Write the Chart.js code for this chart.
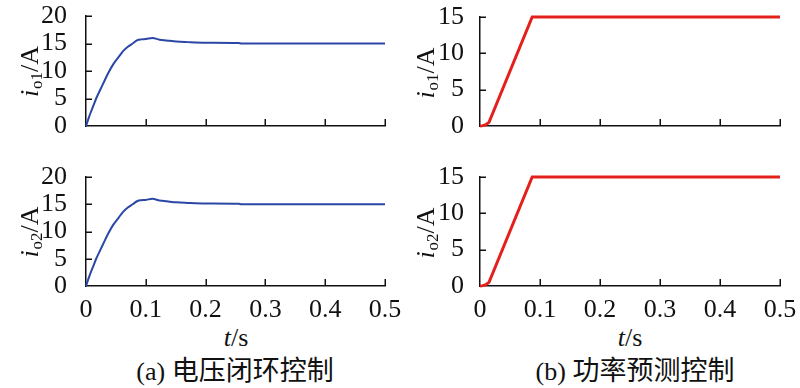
<!DOCTYPE html>
<html>
<head>
<meta charset="utf-8">
<script src="https://cdn.jsdelivr.net/npm/chart.js@4/dist/chart.umd.min.js"></script>
<style>
  html,body{margin:0;padding:0;background:#fff;}
  #wrap{position:relative;width:800px;height:388px;overflow:hidden;background:#fff;}
  canvas{position:absolute;}
  .lbl{position:absolute;font-family:"Liberation Serif","Times New Roman",serif;color:#111;white-space:nowrap;transform:translate(-50%,-50%);line-height:1;}
  .cn{font-family:"Noto Sans CJK SC","Noto Sans",sans-serif;}
</style>
</head>
<body>
<div id="wrap">
  <canvas id="c1" width="400" height="150" style="left:0;top:0;width:400px;height:150px"></canvas>
  <canvas id="c3" width="420" height="172" style="left:0;top:150px;width:420px;height:172px"></canvas>
  <canvas id="c2" width="400" height="150" style="left:400px;top:0;width:400px;height:150px"></canvas>
  <canvas id="c4" width="400" height="172" style="left:400px;top:150px;width:400px;height:172px"></canvas>
  <div class="lbl" style="left:236px;top:338px;font-size:26px"><i>t</i>/s</div>
  <div class="lbl" style="left:630px;top:338px;font-size:26px"><i>t</i>/s</div>
  <div class="lbl" style="left:235px;top:370px;font-size:26px">(a) <span class="cn" style="font-size:27px">电压闭环控制</span></div>
  <div class="lbl" style="left:635px;top:370px;font-size:26px">(b) <span class="cn" style="font-size:27px">功率预测控制</span></div>
</div>
<script>
// ---- data ----
const timeTicks = [0, 0.1, 0.2, 0.3, 0.4, 0.5];
const tVoltage = [0, 0.004, 0.008, 0.012, 0.017, 0.023, 0.03, 0.037, 0.046, 0.055, 0.062, 0.07, 0.078, 0.086, 0.092, 0.1, 0.111, 0.123, 0.135, 0.151, 0.17, 0.2, 0.255, 0.26, 0.5];
const io1Voltage = [0, 1.3, 2.5, 3.6, 5.0, 6.4, 8.0, 9.6, 11.3, 12.6, 13.6, 14.4, 15.0, 15.6, 15.75, 15.8, 16.0, 15.7, 15.55, 15.35, 15.25, 15.15, 15.1, 14.98, 14.98];
const io2Voltage = [0, 1.3, 2.5, 3.6, 5.0, 6.4, 8.0, 9.6, 11.3, 12.6, 13.6, 14.4, 15.0, 15.6, 15.75, 15.8, 16.0, 15.7, 15.55, 15.35, 15.25, 15.15, 15.1, 14.98, 14.98];
const tPower = [0, 0.005, 0.01, 0.015, 0.087, 0.5];
const io1Power = [0, 0.05, 0.2, 0.5, 15, 15];
const io2Power = [0, 0.05, 0.2, 0.5, 15, 15];
const yTicksLeft = [0, 5, 10, 15, 20];
const yTicksRight = [0, 5, 10, 15];

const SERIF = '"Liberation Serif","Times New Roman",serif';

const inwardTicks = {
  id: 'inwardTicks',
  afterDatasetsDraw(chart) {
    const ctx = chart.ctx, a = chart.chartArea;
    const xs = chart.scales.x, ys = chart.scales.y;
    ctx.save();
    ctx.strokeStyle = '#111';
    ctx.lineWidth = 1.5;
    ctx.beginPath();
    xs.ticks.forEach(t => {
      if (t.value === xs.min) return;
      const px = Math.round(xs.getPixelForValue(t.value)) + 0.25;
      ctx.moveTo(px, a.bottom);
      ctx.lineTo(px, a.bottom - 7);
    });
    ys.ticks.forEach(t => {
      if (t.value === ys.min) return;
      const py = Math.round(ys.getPixelForValue(t.value)) + 0.25;
      ctx.moveTo(a.left, py);
      ctx.lineTo(a.left + 6, py);
    });
    ctx.stroke();
    ctx.restore();
  }
};

const yTitle = {
  id: 'yTitle',
  afterDraw(chart, args, opts) {
    const ctx = chart.ctx, a = chart.chartArea;
    const cy = (a.top + a.bottom) / 2 + (opts.dy || 0);
    ctx.save();
    ctx.translate(opts.x, cy);
    ctx.rotate(-Math.PI / 2);
    ctx.fillStyle = '#111';
    ctx.textBaseline = 'alphabetic';
    ctx.textAlign = 'left';
    const f1 = 'italic 26px ' + SERIF, f2 = '17px ' + SERIF, f3 = '26px ' + SERIF;
    ctx.font = f1; const w1 = ctx.measureText('i').width;
    ctx.font = f2; const w2 = ctx.measureText(opts.sub).width;
    ctx.font = f3; const w3 = ctx.measureText('/A').width;
    let x = -(w1 + w2 + w3) / 2;
    ctx.font = f1; ctx.fillText('i', x, 0); x += w1 + 1;
    ctx.font = f2; ctx.fillText(opts.sub, x, 4); x += w2;
    ctx.font = f3; ctx.fillText('/A', x, 0);
    ctx.restore();
  }
};

function makeChart(id, t, vals, color, lw, yMax, yTicks, cfg) {
  const data = t.map((x, i) => ({x: x, y: vals[i]}));
  return new Chart(document.getElementById(id), {
    type: 'line',
    data: {datasets: [{
      data: data, borderColor: color, borderWidth: lw, pointRadius: 0,
      tension: cfg.tension, cubicInterpolationMode: cfg.tension ? 'monotone' : 'default', fill: false, clip: false
    }]},
    options: {
      responsive: false, animation: false, devicePixelRatio: 1,
      layout: {padding: {top: cfg.top, right: cfg.right, left: 0, bottom: 0}},
      plugins: {legend: {display: false}, tooltip: {enabled: false},
        yTitle: {x: cfg.titleX, sub: cfg.sub, dy: cfg.titleDy}},
      scales: {
        x: {
          type: 'linear', min: 0, max: 0.5,
          afterBuildTicks: s => { s.ticks = timeTicks.map(v => ({value: v})); },
          ticks: {display: cfg.showX, padding: 1, color: '#111', maxRotation: 0, autoSkip: false,
            font: {family: SERIF, size: 26}, callback: v => String(Math.round(v * 10) / 10)},
          grid: {display: false},
          border: {display: true, color: '#111', width: 1.5},
          afterFit: s => { s.height = cfg.xh; s.paddingLeft = 0; s.paddingRight = 0; }
        },
        y: {
          type: 'linear', min: 0, max: yMax,
          afterBuildTicks: s => { s.ticks = yTicks.map(v => ({value: v})); },
          ticks: {padding: cfg.ypad, color: '#111', autoSkip: false, font: {family: SERIF, size: 26}},
          grid: {display: false},
          border: {display: true, color: '#111', width: 1.5},
          afterFit: s => { s.width = cfg.yw; s.paddingTop = 0; s.paddingBottom = 0; }
        }
      }
    },
    plugins: [inwardTicks, yTitle]
  });
}

const BLUE = '#2a47a6', RED = '#e3201c';
makeChart('c1', tVoltage, io1Voltage, BLUE, 2, 20, yTicksLeft,
  {tension: 0.3, top: 16, right: 15, xh: 24, yw: 86, ypad: 11, showX: false, titleX: 38, sub: 'o1', titleDy: 1});
makeChart('c3', tVoltage, io2Voltage, BLUE, 2, 20, yTicksLeft,
  {tension: 0.3, top: 27, right: 35, xh: 36, yw: 86, ypad: 11, showX: true, titleX: 38, sub: 'o2', titleDy: 1});
makeChart('c2', tPower, io1Power, RED, 3, 15, yTicksRight,
  {tension: 0, top: 17, right: 20, xh: 24, yw: 80, ypad: 8, showX: false, titleX: 34, sub: 'o1', titleDy: 2});
makeChart('c4', tPower, io2Power, RED, 3, 15, yTicksRight,
  {tension: 0, top: 27, right: 20, xh: 36, yw: 80, ypad: 8, showX: true, titleX: 34, sub: 'o2', titleDy: 2});
</script>
</body>
</html>
